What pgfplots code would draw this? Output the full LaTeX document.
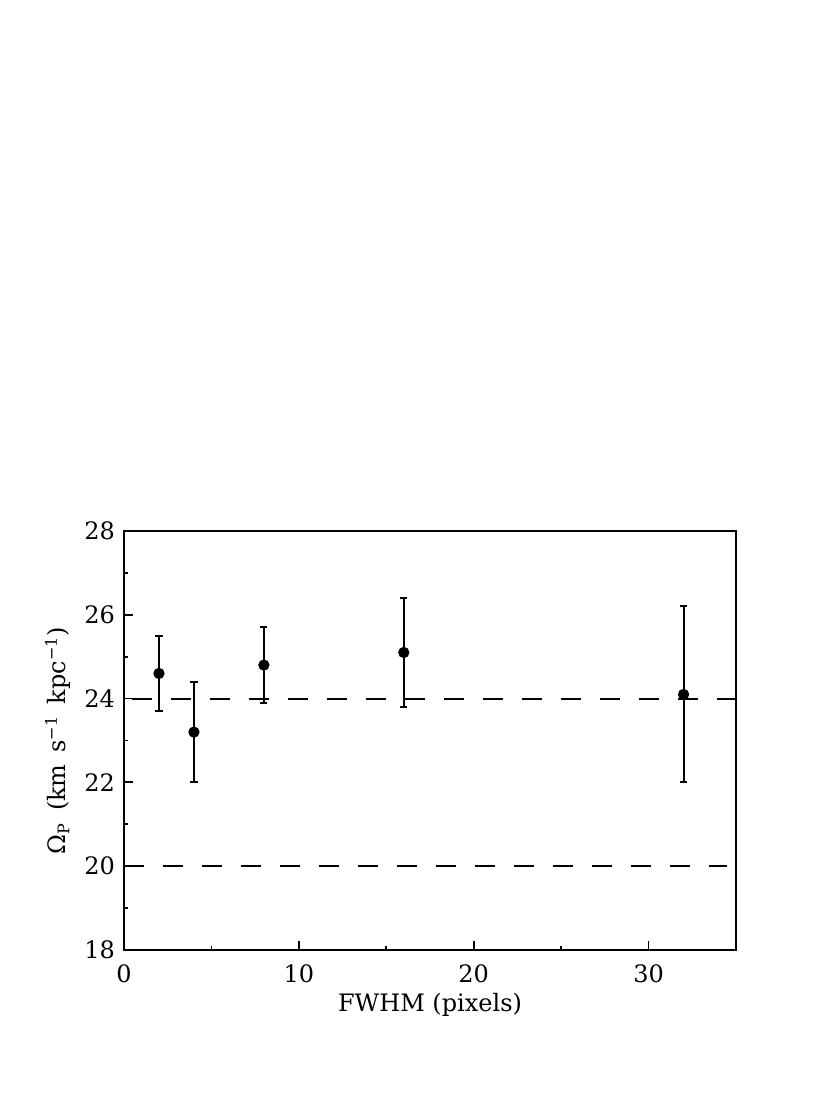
\documentclass[border=0pt]{standalone}
\usepackage{fontspec}
\setmainfont{DejaVu Serif}
\usepackage{pgfplots}
\pgfplotsset{compat=1.18}
\begin{document}
\begin{tikzpicture}
\useasboundingbox (0,0) rectangle (415pt,559.5pt);
\begin{axis}[
  at={(62pt,84.5pt)}, anchor=south west,
  scale only axis, width=306pt, height=209.5pt,
  xmin=0, xmax=35, ymin=18, ymax=28,
  xtick={0,10,20,30}, minor xtick={5,15,25},
  ytick={18,20,...,28}, minor ytick={19,21,...,27},
  tick pos=left, tick align=inside,
  major tick length=4.5pt, minor tick length=2.2pt,
  axis line style={line width=1pt},
  every tick/.style={line width=0.9pt, black},
  tick label style={font=\fontsize{12}{14}\selectfont},
  /pgf/number format/assume math mode=true,
  xticklabel style={yshift=-4pt},
  yticklabel style={xshift=-1pt},
  label style={font=\fontsize{12}{14}\selectfont},
  xlabel={FWHM (pixels)},
  xlabel style={yshift=2pt},
  ylabel={Ω\textsubscript{P}\, (km\, s\textsuperscript{−1}\, kpc\textsuperscript{−1})},
  ylabel style={yshift=0pt},
  clip=false,
]
\addplot[black, line width=1pt, dash pattern=on 10pt off 9.5pt, dash phase=15.5pt] coordinates {(0,24) (35,24)};
\addplot[black, line width=1pt, dash pattern=on 10pt off 9.5pt] coordinates {(0,20) (34.5,20)};
\addplot[black, only marks, mark=*, mark size=2.3pt, line width=1pt,
  error bars/.cd, y dir=both, y explicit,
  error mark options={rotate=90, mark size=1.8pt, line width=1pt},
  error bar style={line width=1pt}]
  coordinates {
  (2,24.6) +- (0,0.9)
  (4,23.2) +- (0,1.2)
  (8,24.8) +- (0,0.9)
  (16,25.1) +- (0,1.3)
  (32,24.1) +- (0,2.1)
};
\end{axis}
\end{tikzpicture}
\end{document}
